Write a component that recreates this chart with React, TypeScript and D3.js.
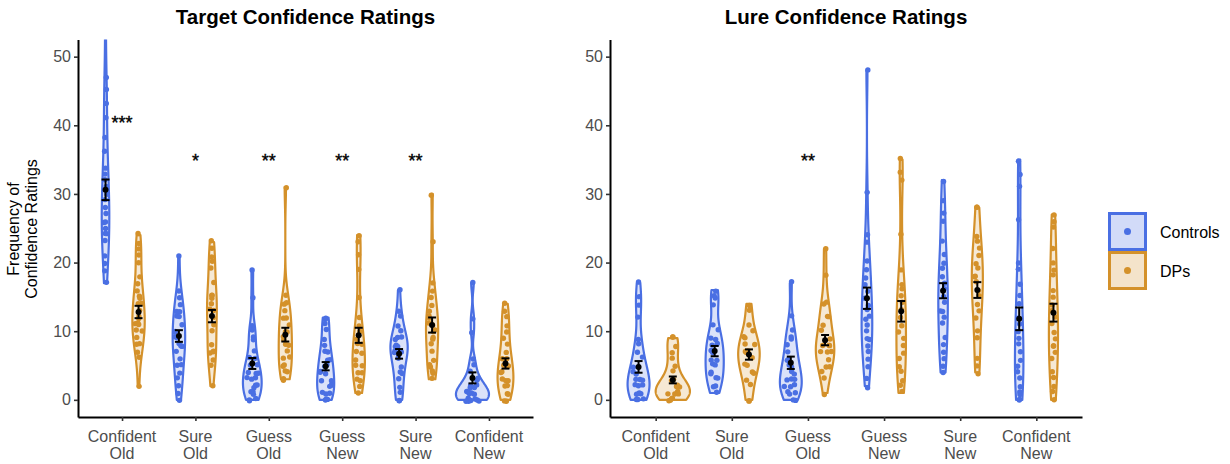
import React, { useEffect, useRef } from "react"
import * as d3 from "d3"

const categories = [["Confident", "Old"], ["Sure", "Old"], ["Guess", "Old"], ["Guess", "New"], ["Sure", "New"], ["Confident", "New"]]
const groupNames = ["Controls", "DPs"]
const groupColors = ["#4a6fe3", "#d4912a"]
const yTicks = [0, 10, 20, 30, 40, 50]

// Target ratings, one list per category
const targetControls = [
    [55, 47, 45, 43, 41, 38, 36, 34, 33, 32, 31, 30, 29, 28, 27, 26, 26, 25, 24, 24, 23, 21, 20, 19, 17],
    [21, 16, 15, 14, 13, 13, 12, 12, 11, 10, 10, 9, 9, 8, 8, 8, 7, 6, 5, 5, 4, 3, 2, 1, 0],
    [19, 15, 11, 10, 9, 9, 7, 6, 6, 5, 5, 4, 4, 4, 3, 3, 3, 2, 2, 2, 1, 1, 1, 0, 0, 0],
    [12, 12, 11, 10, 9, 8, 7, 7, 6, 6, 5, 5, 4, 4, 4, 3, 3, 2, 2, 2, 1, 1, 1, 0, 0, 0],
    [16, 13, 12, 11, 10, 9, 9, 9, 8, 8, 8, 7, 7, 7, 6, 6, 5, 4, 4, 3, 2, 1, 0, 0],
    [17, 12, 10, 6, 5, 4, 3, 3, 2, 2, 2, 2, 1, 1, 1, 1, 1, 0, 0, 0, 0, 0, 0, 0],
]
const targetDPs = [
    [24, 23, 22, 21, 20, 18, 17, 16, 15, 15, 14, 14, 13, 12, 12, 11, 11, 11, 10, 10, 9, 8, 8, 7, 6, 2],
    [23, 22, 21, 20, 19, 17, 15, 15, 15, 14, 13, 13, 12, 11, 10, 8, 7, 7, 7, 6, 5, 2],
    [31, 15, 14, 14, 13, 12, 12, 11, 10, 10, 9, 9, 8, 8, 7, 6, 6, 5, 5, 4, 4, 3, 3],
    [24, 23, 21, 19, 15, 12, 11, 10, 9, 8, 8, 7, 7, 6, 5, 5, 4, 4, 3, 3, 2, 1],
    [30, 23, 17, 16, 15, 14, 13, 12, 12, 11, 11, 10, 10, 9, 9, 8, 7, 6, 5, 5, 4, 4, 3],
    [14, 13, 12, 11, 10, 9, 8, 7, 6, 6, 5, 5, 4, 4, 3, 3, 3, 2, 2, 1, 1, 0, 0],
]
const targetControlMean = [30.6, 9.3, 5.3, 4.9, 6.7, 3.2]
const targetControlSE = [1.5, 0.85, 0.8, 0.6, 0.7, 0.8]
const targetDPMean = [12.8, 12.2, 9.5, 9.4, 10.9, 5.3]
const targetDPSE = [0.9, 0.9, 1.0, 1.1, 1.1, 0.75]
const targetStars = ["***", "*", "**", "**", "**", ""]
const targetStarY = [40.5, 35, 35, 35, 35, 35]

// Lure ratings
const lureControls = [
    [17, 15, 14, 12, 9, 8, 7, 6, 5, 5, 4, 4, 3, 3, 3, 2, 2, 2, 1, 1, 1, 0, 0, 0],
    [16, 15, 15, 14, 11, 10, 9, 9, 8, 8, 7, 7, 6, 6, 5, 5, 4, 4, 3, 3, 2, 2, 1],
    [17, 12, 10, 9, 9, 8, 7, 6, 6, 5, 5, 4, 4, 3, 3, 3, 2, 2, 2, 1, 1, 1, 0, 0],
    [48, 30, 24, 23, 20, 19, 18, 17, 16, 15, 14, 13, 12, 12, 11, 10, 9, 9, 8, 7, 6, 5, 3, 2],
    [32, 29, 27, 26, 23, 21, 20, 19, 18, 17, 16, 15, 14, 13, 13, 12, 11, 9, 8, 7, 6, 5, 4],
    [35, 33, 31, 26, 20, 19, 17, 15, 14, 12, 11, 10, 9, 8, 7, 6, 5, 4, 3, 2, 1, 1, 0, 0],
]
const lureDPs = [
    [9, 9, 8, 7, 6, 5, 4, 3, 3, 2, 2, 2, 2, 1, 1, 1, 1, 1, 0, 0, 0, 0],
    [14, 13, 11, 10, 9, 9, 8, 8, 7, 7, 7, 6, 6, 5, 5, 4, 4, 3, 2, 0, 0],
    [22, 18, 14, 14, 12, 12, 11, 10, 9, 8, 8, 8, 7, 7, 7, 6, 5, 5, 4, 3, 1],
    [35, 33, 32, 24, 19, 17, 16, 15, 14, 13, 12, 11, 10, 9, 8, 7, 6, 5, 4, 3, 2, 1],
    [28, 28, 24, 23, 22, 21, 20, 19, 18, 18, 17, 16, 15, 14, 13, 12, 10, 9, 6, 5, 4],
    [27, 26, 25, 22, 20, 19, 18, 16, 15, 14, 13, 12, 11, 10, 9, 8, 8, 7, 6, 4, 3, 2, 1, 0],
]
const lureControlMean = [4.8, 7.1, 5.4, 14.8, 15.9, 11.8]
const lureControlSE = [0.85, 0.75, 0.9, 1.55, 1.1, 1.65]
const lureDPMean = [2.9, 6.6, 8.7, 12.9, 16.0, 12.7]
const lureDPSE = [0.5, 0.75, 0.75, 1.5, 1.15, 1.3]
const lureStars = ["", "", "**", "", "", ""]
const lureStarY = [35, 35, 35, 35, 35, 35]

const FONT = "'Liberation Sans', Arial, Helvetica, sans-serif"

// gaussian kde, bandwidth like R's nrd0, trimmed to the data range
function kde(values) {
    const n = values.length
    const sorted = values.slice().sort(d3.ascending)
    const sd = d3.deviation(values) || 1
    const iqr = d3.quantile(sorted, 0.75) - d3.quantile(sorted, 0.25)
    let lo = Math.min(sd, iqr / 1.34)
    if (!(lo > 0)) lo = sd
    const bw = 0.9 * lo * Math.pow(n, -0.2)
    const [min, max] = d3.extent(values)
    return d3.range(0, 256).map(i => {
        const y = min + (max - min) * i / 255
        const dens = d3.mean(values, v => Math.exp(-0.5 * ((y - v) / bw) ** 2)) / (bw * Math.sqrt(2 * Math.PI))
        return [y, dens]
    })
}

function drawPanel(svg, p) {
    const x = d3.scaleLinear().domain([0.4, 6.6]).range([p.left, p.right])
    const y = d3.scaleLinear().domain([-2.5, 52.5]).range([p.bottom, p.top])
    const unit = x(1) - x(0)
    const g = svg.append("g")

    const clipId = "clip-" + p.id
    svg.append("clipPath").attr("id", clipId)
        .append("rect").attr("x", p.left).attr("y", p.top)
        .attr("width", p.right - p.left).attr("height", p.bottom - p.top)

    // title
    g.append("text").attr("x", (p.left + p.right) / 2).attr("y", 24)
        .attr("text-anchor", "middle").attr("font-family", FONT)
        .attr("font-size", 20.5).attr("font-weight", "bold").attr("fill", "#000")
        .text(p.title)

    const sets = [p.controls, p.dps]
    const dens = sets.map(s => s.map(vals => kde(vals)))
    const maxD = d3.max(dens.flat(), d => d3.max(d, e => e[1]))
    const halfW = 0.225 * unit

    const plot = g.append("g").attr("clip-path", `url(#${clipId})`)
    const rng = d3.randomLcg(p.seed)

    sets.forEach((set, gi) => {
        const color = groupColors[gi]
        const offset = gi === 0 ? -0.225 : 0.225
        set.forEach((vals, ci) => {
            const cx = x(ci + 1 + offset)
            const d = dens[gi][ci]
            const w = v => v / maxD * halfW
            const area = d3.area()
                .y(e => y(e[0]))
                .x0(e => cx - w(e[1]))
                .x1(e => cx + w(e[1]))
            plot.append("path").attr("d", area(d))
                .attr("fill", color).attr("fill-opacity", 0.2)
                .attr("stroke", color).attr("stroke-width", 2.2)
                .attr("stroke-linejoin", "round")
            const widthAt = v => {
                const i = d3.bisector(e => e[0]).center(d, v)
                return w(d[i][1])
            }
            vals.forEach(v => {
                const lim = Math.max(1, Math.min(0.09 * unit, widthAt(v) - 2))
                const jx = (rng() * 2 - 1) * lim
                const jy = (rng() * 2 - 1) * 0.25
                plot.append("circle").attr("cx", cx + jx).attr("cy", y(v + jy))
                    .attr("r", 2.7).attr("fill", color)
            })
        })
    })

    // means and standard errors
    const stats = [[p.cMean, p.cSE], [p.dMean, p.dSE]]
    stats.forEach(([means, ses], gi) => {
        const offset = gi === 0 ? -0.225 : 0.225
        means.forEach((m, ci) => {
            const cx = x(ci + 1 + offset)
            const se = ses[ci]
            const eb = g.append("g").attr("stroke", "#000").attr("stroke-width", 2)
            eb.append("line").attr("x1", cx).attr("x2", cx).attr("y1", y(m - se)).attr("y2", y(m + se))
            eb.append("line").attr("x1", cx - 4).attr("x2", cx + 4).attr("y1", y(m - se)).attr("y2", y(m - se))
            eb.append("line").attr("x1", cx - 4).attr("x2", cx + 4).attr("y1", y(m + se)).attr("y2", y(m + se))
            g.append("circle").attr("cx", cx).attr("cy", y(m)).attr("r", 3).attr("fill", "#000")
        })
    })

    // significance stars
    p.stars.forEach((s, ci) => {
        if (!s) return
        g.append("text").attr("x", x(ci + 1)).attr("y", y(p.starY[ci]) + 7.5)
            .attr("text-anchor", "middle").attr("font-family", FONT)
            .attr("font-size", 18).attr("fill", "#000").attr("stroke", "#000").attr("stroke-width", 0.4)
            .text(s)
    })

    // axes
    const yAxis = d3.axisLeft(y).tickValues(yTicks).tickSizeInner(4).tickSizeOuter(0).tickPadding(3)
    const ya = g.append("g").attr("transform", `translate(${p.left},0)`).call(yAxis)
    const xAxis = d3.axisBottom(x).tickValues(d3.range(1, 7)).tickFormat(() => "").tickSizeInner(4).tickSizeOuter(0)
    const xa = g.append("g").attr("transform", `translate(0,${p.bottom})`).call(xAxis)
    ;[ya, xa].forEach(a => {
        a.select(".domain").attr("stroke", "#000").attr("stroke-width", 2)
        a.selectAll(".tick line").attr("stroke", "#333").attr("stroke-width", 1.6)
        a.selectAll(".tick text").attr("font-family", FONT).attr("font-size", 16).attr("fill", "#4d4d4d")
    })
    categories.forEach((lines, ci) => {
        const t = g.append("text").attr("text-anchor", "middle").attr("font-family", FONT)
            .attr("font-size", 16).attr("fill", "#4d4d4d")
        lines.forEach((ln, li) => {
            t.append("tspan").attr("x", x(ci + 1)).attr("y", p.bottom + 25 + li * 17).text(ln)
        })
    })
}

export default function App() {
    const ref = useRef(null)
    useEffect(() => {
        const svg = d3.select(ref.current)
        svg.selectAll("*").remove()

        drawPanel(svg, {
            id: "target", title: "Target Confidence Ratings", left: 78, right: 533, top: 39.5, bottom: 417, seed: 0.17,
            controls: targetControls, dps: targetDPs,
            cMean: targetControlMean, cSE: targetControlSE, dMean: targetDPMean, dSE: targetDPSE,
            stars: targetStars, starY: targetStarY,
        })
        drawPanel(svg, {
            id: "lure", title: "Lure Confidence Ratings", left: 610, right: 1082, top: 39.5, bottom: 417, seed: 0.53,
            controls: lureControls, dps: lureDPs,
            cMean: lureControlMean, cSE: lureControlSE, dMean: lureDPMean, dSE: lureDPSE,
            stars: lureStars, starY: lureStarY,
        })

        // y axis title, shared by the left panel
        const yt = svg.append("text").attr("transform", "translate(0,229) rotate(-90)")
            .attr("text-anchor", "middle").attr("font-family", FONT).attr("font-size", 16).attr("fill", "#000")
        yt.append("tspan").attr("x", 0).attr("y", 19).text("Frequency of")
        yt.append("tspan").attr("x", 0).attr("y", 37).text("Confidence Ratings")

        // legend
        const lg = svg.append("g")
        groupNames.forEach((name, i) => {
            const top = 213.5 + i * 39
            lg.append("rect").attr("x", 1109.5).attr("y", top).attr("width", 36).attr("height", 36)
                .attr("fill", groupColors[i]).attr("fill-opacity", 0.25)
                .attr("stroke", groupColors[i]).attr("stroke-width", 3)
            lg.append("circle").attr("cx", 1127.5).attr("cy", top + 18).attr("r", 3.5).attr("fill", groupColors[i])
            lg.append("text").attr("x", 1160).attr("y", top + 24).attr("font-family", FONT)
                .attr("font-size", 16).attr("fill", "#000").text(name)
        })
    }, [])

    return (
        <svg ref={ref} width={1230} height={464}
            style={{ position: "absolute", left: 0, top: 0, background: "#fff" }} />
    )
}
